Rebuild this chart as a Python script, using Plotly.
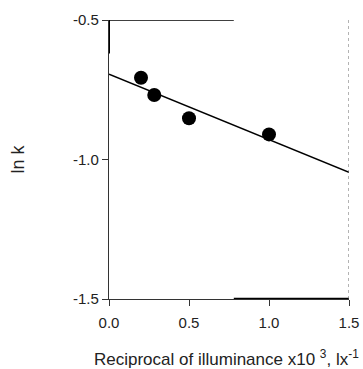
import plotly.graph_objects as go

# Data
x_pts = [0.20, 0.283, 0.50, 1.00]
y_pts = [-0.707, -0.769, -0.852, -0.910]
fit_x = [0.0, 1.5]
fit_y = [-0.694, -1.046]
x_ticks = [0.0, 0.5, 1.0, 1.5]
x_tick_labels = ["0.0", "0.5", "1.0", "1.5"]
y_ticks = [-1.5, -1.0, -0.5]
y_tick_labels = ["-1.5", "-1.0", "-0.5"]

W, H = 363, 369

fig = go.Figure()
fig.add_trace(go.Scatter(x=fit_x, y=fit_y, mode="lines",
                         line=dict(color="black", width=1.6), showlegend=False))
fig.add_trace(go.Scatter(x=x_pts, y=y_pts, mode="markers",
                         marker=dict(color="black", size=14), showlegend=False))

fam = "Liberation Sans, Arial, sans-serif"
fig.update_layout(
    width=W, height=H,
    margin=dict(l=109, r=14, t=20, b=70),
    plot_bgcolor="white", paper_bgcolor="white",
    font=dict(family=fam, size=15, color="#222"),
    xaxis=dict(range=[0, 1.5], tickvals=x_ticks, ticktext=x_tick_labels,
               showgrid=False, zeroline=False, showline=True, linecolor="#333",
               linewidth=1.2, ticks="outside", ticklen=6, tickcolor="#333",
               tickfont=dict(size=15), automargin=False, ticklabelstandoff=4),
    yaxis=dict(range=[-1.5, -0.5], tickvals=y_ticks, ticktext=y_tick_labels,
               showgrid=False, zeroline=False, showline=True, linecolor="#333",
               linewidth=1.2, ticks="outside", ticklen=6, tickcolor="#333",
               tickfont=dict(size=15), automargin=False),
    shapes=[
        dict(type="line", xref="x", yref="y", x0=0, x1=0.78, y0=-0.5, y1=-0.5,
             line=dict(color="black", width=1.5)),
        dict(type="line", xref="x", yref="y", x0=0.78, x1=1.5, y0=-1.5, y1=-1.5,
             line=dict(color="black", width=2.5)),
        dict(type="line", xref="x", yref="y", x0=1.5, x1=1.5, y0=-1.5, y1=-0.5,
             line=dict(color="#666", width=1, dash="dot")),
        dict(type="line", xref="x", yref="y", x0=0, x1=0, y0=-0.5, y1=-0.62,
             line=dict(color="black", width=2)),
    ],
    annotations=[
        dict(text="Reciprocal of illuminance x10 <sup>3</sup>, lx<sup>-1</sup>",
             xref="paper", yref="paper", x=-0.071, y=-0.213, xanchor="left",
             yanchor="middle", showarrow=False, font=dict(size=17)),
        dict(text="ln k", xref="paper", yref="paper", x=-0.383, y=0.5,
             xanchor="center", yanchor="middle",
             textangle=-90, showarrow=False, font=dict(size=18)),
    ],
)

post = ("document.body.style.margin='0';document.body.style.overflow='hidden';"
        "Plotly.relayout('{plot_id}', {width: %d, height: %d});" % (W, H))
fig.write_html("out.html", post_script=post, config={"displayModeBar": False})
